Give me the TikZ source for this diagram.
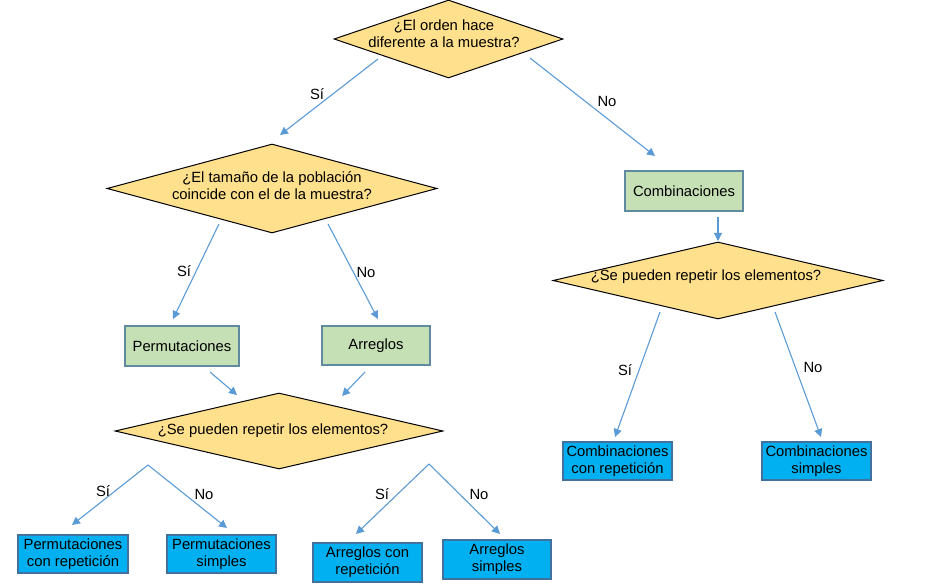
\documentclass[tikz,border=0pt]{standalone}
\usepackage{fontspec}
\setmainfont{Liberation Sans}
\usetikzlibrary{shapes.geometric,arrows.meta}

\definecolor{qfill}{RGB}{255,224,140}
\definecolor{gfill}{RGB}{197,224,180}
\definecolor{gdraw}{RGB}{96,138,160}
\definecolor{bfill}{RGB}{0,176,240}
\definecolor{bdraw}{RGB}{65,113,156}
\definecolor{arrowc}{RGB}{91,155,213}

\tikzset{
  question/.style={diamond, draw=black, line width=1pt, fill=qfill, inner sep=0pt, aspect=1},
  qtext/.style={align=center, inner sep=0pt, font=\fontsize{14.8}{17}\selectfont},
  greenbox/.style={rectangle, draw=gdraw, line width=1.2pt, fill=gfill, inner sep=0pt,
    align=center, font=\fontsize{14.8}{17}\selectfont},
  bluebox/.style={rectangle, draw=bdraw, line width=1.2pt, fill=bfill, inner sep=0pt,
    align=center, font=\fontsize{14.8}{17}\selectfont},
  flow/.style={draw=arrowc, line width=1.1pt, -{Triangle[width=8pt,length=8pt]}},
  answer/.style={font=\fontsize{14.8}{17}\selectfont, inner sep=0pt}
}

\begin{document}
\begin{tikzpicture}[x=1pt,y=-1pt]
\useasboundingbox (0,0) rectangle (932,585);

% decision diamonds
\node[question, minimum width=229pt, minimum height=78pt] (q1) at (448.5,39) {};
\node[qtext] (q1t) at (444,34) {¿El orden hace\\diferente a la muestra?};

\node[question, minimum width=330pt, minimum height=89pt] (q2) at (272,188.5) {};
\node[qtext] (q2t) at (272,186) {¿El tamaño de la población\\coincide con el de la muestra?};

\node[question, minimum width=328pt, minimum height=76pt] (q3) at (279,431) {};
\node[qtext] (q3t) at (273,431) {¿Se pueden repetir los elementos?};

\node[question, minimum width=330pt, minimum height=77pt] (q4) at (718,280.5) {};
\node[qtext] (q4t) at (706,277) {¿Se pueden repetir los elementos?};

% intermediate categories
\node[greenbox, minimum width=118pt, minimum height=40pt] (comb) at (684,191) {Combinaciones};
\node[greenbox, minimum width=114pt, minimum height=40pt] (perm) at (182,346) {Permutaciones};
\node[greenbox, minimum width=108pt, minimum height=39pt] (arr) at (376,345.5) {Arreglos};

% final results
\node[bluebox, minimum width=110pt, minimum height=38pt] (pcr) at (73,554) {Permutaciones\\con repetición};
\node[bluebox, minimum width=109pt, minimum height=38pt] (ps) at (221.5,554) {Permutaciones\\simples};
\node[bluebox, minimum width=109pt, minimum height=39pt] (acr) at (367.5,562.5) {Arreglos con\\repetición};
\node[bluebox, minimum width=108pt, minimum height=39pt] (as) at (497,559.5) {Arreglos\\simples};
\node[bluebox, minimum width=109pt, minimum height=38pt] (ccr) at (617.5,461) {Combinaciones\\con repetición};
\node[bluebox, minimum width=109pt, minimum height=38pt] (cs) at (816.5,461) {Combinaciones\\simples};

% connector end points
\coordinate (a1s) at (378,59);   \coordinate (a1e) at (280,135);
\coordinate (b1s) at (530,58);   \coordinate (b1e) at (655,156);
\coordinate (a2s) at (219,224);  \coordinate (a2e) at (173,319);
\coordinate (b2s) at (328,224);  \coordinate (b2e) at (378,319);
\coordinate (cs1) at (718,217);  \coordinate (ce1) at (718,241);
\coordinate (ps1) at (210,372);  \coordinate (pe1) at (237,395);
\coordinate (rs1) at (365,372);  \coordinate (re1) at (342,396);
\coordinate (a4s) at (660,312);  \coordinate (a4e) at (615,437);
\coordinate (b4s) at (775,312);  \coordinate (b4e) at (821,437);
\coordinate (apxL) at (148,465); \coordinate (apxR) at (429,464);
\coordinate (lse) at (72,525);   \coordinate (lne) at (227,528);
\coordinate (rse) at (356,534);  \coordinate (rne) at (500,534);

% connectors
\draw[flow] (a1s) -- (a1e);
\draw[flow] (b1s) -- (b1e);
\draw[flow] (a2s) -- (a2e);
\draw[flow] (b2s) -- (b2e);
\draw[flow] (cs1) -- (ce1);
\draw[flow] (ps1) -- (pe1);
\draw[flow] (rs1) -- (re1);
\draw[flow] (a4s) -- (a4e);
\draw[flow] (b4s) -- (b4e);
\draw[flow] (apxL) -- (lse);
\draw[flow] (apxL) -- (lne);
\draw[flow] (apxR) -- (rse);
\draw[flow] (apxR) -- (rne);

% branch labels
\node[answer] (l1) at (317,94) {Sí};
\node[answer] (l2) at (607,101) {No};
\node[answer] (l3) at (184,271) {Sí};
\node[answer] (l4) at (366,272) {No};
\node[answer] (l5) at (625,370) {Sí};
\node[answer] (l6) at (813,367) {No};
\node[answer] (l7) at (103,491) {Sí};
\node[answer] (l8) at (204,494) {No};
\node[answer] (l9) at (382,494) {Sí};
\node[answer] (l10) at (479,494) {No};
\end{tikzpicture}
\end{document}
